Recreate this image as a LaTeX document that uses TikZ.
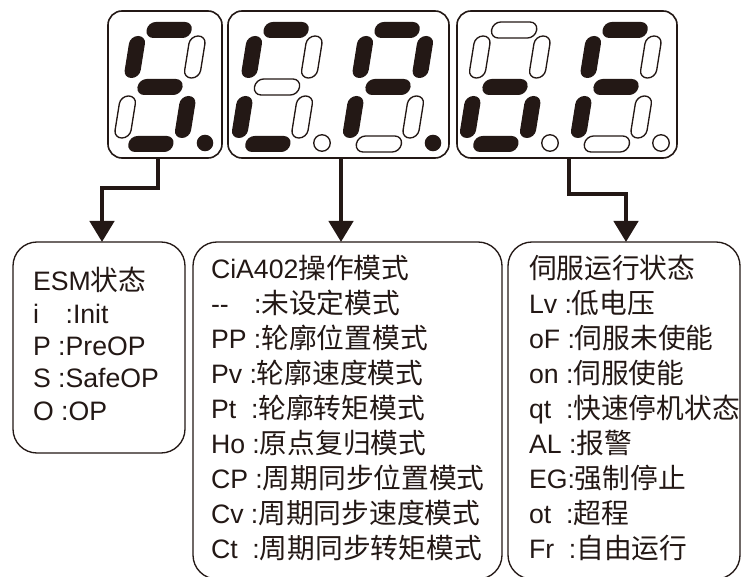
\documentclass[tikz,border=0pt]{standalone}
\usepackage{fontspec}
\setmainfont{Liberation Sans}
\newfontfamily\cjk[Scale=1.04]{Noto Sans CJK SC}
\usetikzlibrary{arrows.meta}
\definecolor{segc}{RGB}{35,24,21}
\newcommand\zh[1]{{\cjk #1}}
\newcommand\sevenseg[9]{%
  \begin{scope}[shift={(#1)}, xslant=0.16]
    \path[#2] (-22.5,-65) rectangle (22.5,-49);
    \path[#3] (22,-51) rectangle (38,-9);
    \path[#4] (22,9) rectangle (38,51);
    \path[#5] (-22.5,49) rectangle (22.5,65);
    \path[#6] (-38,9) rectangle (-22,51);
    \path[#7] (-38,-51) rectangle (-22,-9);
    \path[#8] (-22.5,-8) rectangle (22.5,8);
  \end{scope}
  \begin{scope}[shift={(#1)}]
    \path[#9] (45,56) circle[radius=6.2pt];
  \end{scope}}
\newcommand\linesat[2]{\vtop{\baselineskip=#1\lineskiplimit=-20pt #2}}
\begin{document}
\begin{tikzpicture}[x=0.75pt, y=-0.75pt,
  segon/.style={fill=segc, rounded corners=5.9pt},
  segoff/.style={draw=segc, fill=white, line width=1pt, rounded corners=5.9pt},
  dpon/.style={fill=segc},
  dpoff/.style={draw=segc, fill=white, line width=1pt},
  frame/.style={draw=segc, line width=1.2pt, rounded corners=10.5pt, inner sep=0pt, outer sep=0pt, minimum height=110.25pt},
  infobox/.style={draw=segc, line width=1pt, rounded corners=18pt, inner sep=0pt, outer sep=0pt},
  arr/.style={draw=segc, line width=3.4pt, -{Triangle[length=15.75pt,width=18pt]}},
  txt/.style={anchor=base west, inner sep=0pt, outer sep=0pt, text=segc, font=\fontsize{20pt}{24pt}\selectfont}]
\path[fill=white] (0,0) rectangle (742,577);
\useasboundingbox (0,0) rectangle (742,577);

% display frames
\node[frame, minimum width=85.5pt] (d1) at (165,84.5) {};
\node[frame, minimum width=165.75pt] (d2) at (338.5,84.5) {};
\node[frame, minimum width=165pt] (d3) at (567,84.5) {};

% digits: a b c d e f g dp
\sevenseg{160,87}{segon}{segoff}{segon}{segon}{segoff}{segon}{segon}{dpon}
\sevenseg{277,87}{segon}{segoff}{segoff}{segon}{segon}{segon}{segoff}{dpoff}
\sevenseg{388,87}{segon}{segon}{segoff}{segoff}{segon}{segon}{segon}{dpon}
\sevenseg{505,87}{segoff}{segoff}{segon}{segon}{segon}{segoff}{segon}{dpoff}
\sevenseg{616,87}{segon}{segoff}{segoff}{segoff}{segon}{segon}{segon}{dpoff}

% info boxes
\node[infobox, minimum width=129pt, minimum height=158.25pt] (b1) at (99,347.5) {};
\node[infobox, minimum width=231.75pt, minimum height=252.75pt] (b2) at (347.5,410.5) {};
\node[infobox, minimum width=174pt, minimum height=252.75pt] (b3) at (624,410.5) {};

% arrows
\coordinate (k1a) at (158,188);
\coordinate (k1b) at (102,188);
\coordinate (k2) at (341,200);
\coordinate (k3a) at (569,194);
\coordinate (k3b) at (626,194);
\draw[arr] (d1.south -| k1a) -- (k1a) -- (k1b) -- (k1b |- b1.north);
\draw[arr] (d2.south -| k2) -- (k2 |- b2.north);
\draw[arr] (d3.south -| k3a) -- (k3a) -- (k3b) -- (k3b |- b3.north);

% texts
\node[txt] (t1) at (33,291) {\linesat{24.2pt}{%
  \hbox{ESM\zh{状态}}
  \hbox{i\hspace{1em}:Init}
  \hbox{P :PreOP}
  \hbox{S :SafeOP}
  \hbox{O :OP}}};
\node[txt] (t2) at (211,278) {\linesat{26.25pt}{%
  \hbox{CiA402\zh{操作模式}}
  \hbox{-{}-\hspace{0.95em}:\zh{未设定模式}}
  \hbox{PP :\zh{轮廓位置模式}}
  \hbox{Pv :\zh{轮廓速度模式}}
  \hbox{Pt\ \ :\zh{轮廓转矩模式}}
  \hbox{Ho :\zh{原点复归模式}}
  \hbox{CP :\zh{周期同步位置模式}}
  \hbox{Cv :\zh{周期同步速度模式}}
  \hbox{Ct\ \ :\zh{周期同步转矩模式}}}};
\node[txt] (t3) at (529,278) {\linesat{26.25pt}{%
  \hbox{\zh{伺服运行状态}}
  \hbox{Lv :\zh{低电压}}
  \hbox{oF :\zh{伺服未使能}}
  \hbox{on :\zh{伺服使能}}
  \hbox{qt\ \ :\zh{快速停机状态}}
  \hbox{AL :\zh{报警}}
  \hbox{EG:\zh{强制停止}}
  \hbox{ot\ \ :\zh{超程}}
  \hbox{Fr\ \ :\zh{自由运行}}}};
\end{tikzpicture}
\end{document}
